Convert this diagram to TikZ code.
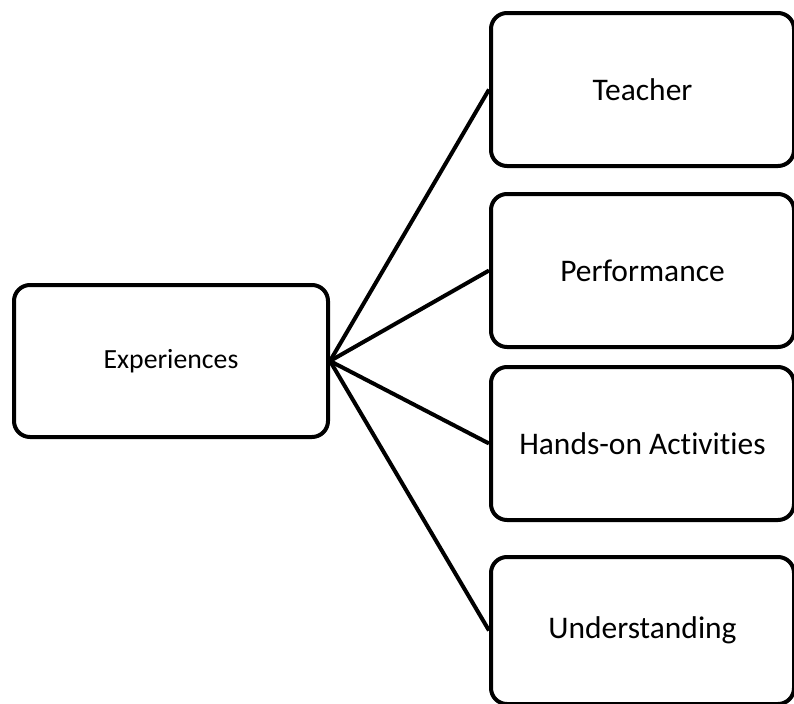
\documentclass[tikz,border=0pt]{standalone}
\usepackage{fontspec}
\setmainfont[Ligatures=NoCommon]{Carlito}
\begin{document}
\begin{tikzpicture}[x=0.75pt,y=-0.75pt,
  box/.style={draw=black,line width=3pt,rounded corners=12pt,fill=white,inner sep=0pt,anchor=north west},
  big/.style={font=\fontsize{23.6}{28}\selectfont},
  conn/.style={draw=black,line width=3pt}]
\useasboundingbox (0,0) rectangle (794,704);
\node[box,minimum width=314*0.75pt,minimum height=152*0.75pt,font=\fontsize{20.8}{25}\selectfont] (exp) at (12,283) {Experiences};
\node[box,big,minimum width=303*0.75pt,minimum height=153*0.75pt] (t) at (489,11) {Teacher};
\node[box,big,minimum width=303*0.75pt,minimum height=153*0.75pt] (p) at (489,192) {Performance};
\node[box,big,minimum width=303*0.75pt,minimum height=153*0.75pt] (h) at (489,365) {Hands-on Activities};
\node[box,big,minimum width=303*0.75pt,minimum height=147*0.75pt] (u) at (489,555) {Understanding};
\foreach \n in {t,p,h,u} \draw[conn] (exp.east) -- (\n.west);
\end{tikzpicture}
\end{document}
